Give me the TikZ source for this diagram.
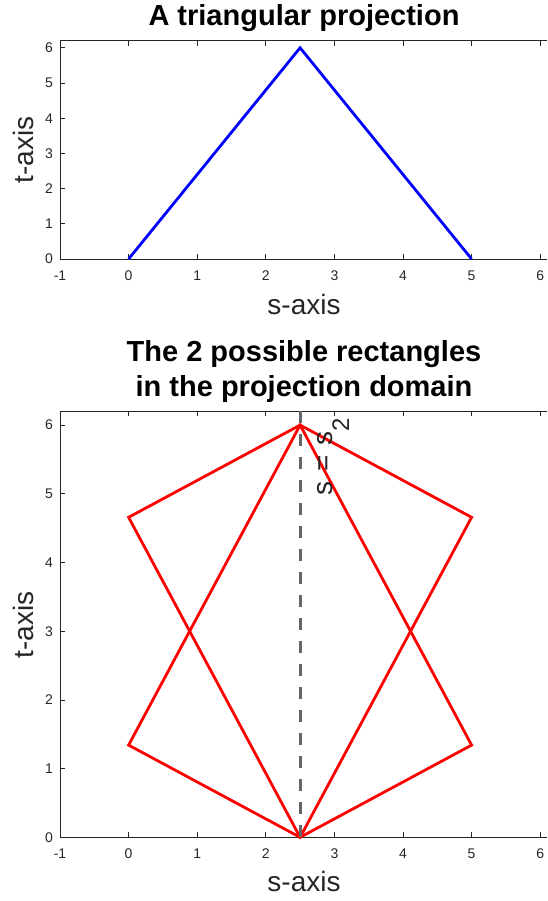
\documentclass[tikz,border=0pt]{standalone}
\usepackage{fontspec}
\setmainfont{Liberation Sans}
\usetikzlibrary{positioning}
\definecolor{axgray}{HTML}{262626}
\definecolor{dashgray}{HTML}{666666}

\begin{document}
\begin{tikzpicture}[x=1pt,y=-1pt,
axisline/.style={draw=axgray,line width=0.8pt},
ticklab/.style={inner sep=0pt,text=axgray,font=\fontsize{14}{14}\selectfont},
axlab/.style={inner sep=0pt,text=axgray,font=\fontsize{28}{28}\selectfont},
ttl/.style={inner sep=0pt,align=center,font=\bfseries\fontsize{29}{35}\selectfont},
curve/.style={line width=2.8pt}]
\useasboundingbox (0,0) rectangle (547,901);
% top panel
\node[ttl,anchor=base] (ttltop) at (304,26) {A triangular projection};
\begin{scope}[shift={(128.6,259)},x=68.6pt,y=35.2pt]
 \draw[axisline] (-1,6.2) -- (-1,0) -- (6.1,0) (-1,6.2) -- (6.1,6.2);
 \foreach \s in {-1,...,6} {
   \draw[axisline] (\s,0) -- ++(0,5pt) (\s,6.2) -- ++(0,-5pt);
   \node[ticklab,anchor=base] (stop\s) at ([yshift=-21pt]\s,0) {\s};
 }
 \foreach \t in {0,...,6} {
   \draw[axisline] (-1,\t) -- ++(5pt,0);
   \node[ticklab,anchor=east] (ttop\t) at ([xshift=-7pt]-1,\t) {\t};
 }
 \draw[curve,blue] (0,0) -- (2.5,6) -- (5,0);
\end{scope}
\node[axlab,anchor=base] (sxtop) at (304,314) {s-axis};
\node[axlab,rotate=90,anchor=base] (tytop) at (33,150) {t-axis};
% bottom panel
\node[ttl,anchor=base] (ttlbot) at (304,396) {The 2 possible rectangles\\in the projection domain};
\begin{scope}[shift={(128.6,837.3)},x=68.6pt,y=68.7pt]
 \draw[axisline] (-1,6.2) -- (-1,0) -- (6.1,0) (-1,6.2) -- (6.1,6.2);
 \foreach \s in {-1,...,6} {
   \draw[axisline] (\s,0) -- ++(0,5pt) (\s,6.2) -- ++(0,-5pt);
   \node[ticklab,anchor=base] (sbot\s) at ([yshift=-21pt]\s,0) {\s};
 }
 \foreach \t in {0,...,6} {
   \draw[axisline] (-1,\t) -- ++(5pt,0);
   \node[ticklab,anchor=east] (tbot\t) at ([xshift=-7pt]-1,\t) {\t};
 }
 \draw[curve,red] (0,4.658) -- (2.5,6) -- (5,1.342) -- (2.5,0) -- cycle;
 \draw[curve,red] (5,4.658) -- (2.5,6) -- (0,1.342) -- (2.5,0) -- cycle;
 \draw[curve,dashgray,dash pattern=on 12pt off 11pt] (2.5,0) -- (2.5,6.2);
\end{scope}
\node[axlab,anchor=base] (sxbot) at (304,891) {s-axis};
\node[axlab,rotate=90,anchor=base] (tybot) at (33,625) {t-axis};
\node[axlab,rotate=90,anchor=base west] (seq) at (332,496) {s\hspace{10pt}=\hspace{10pt}s\raisebox{-17pt}{\fontsize{24}{24}\selectfont 2}};
\end{tikzpicture}
\end{document}
